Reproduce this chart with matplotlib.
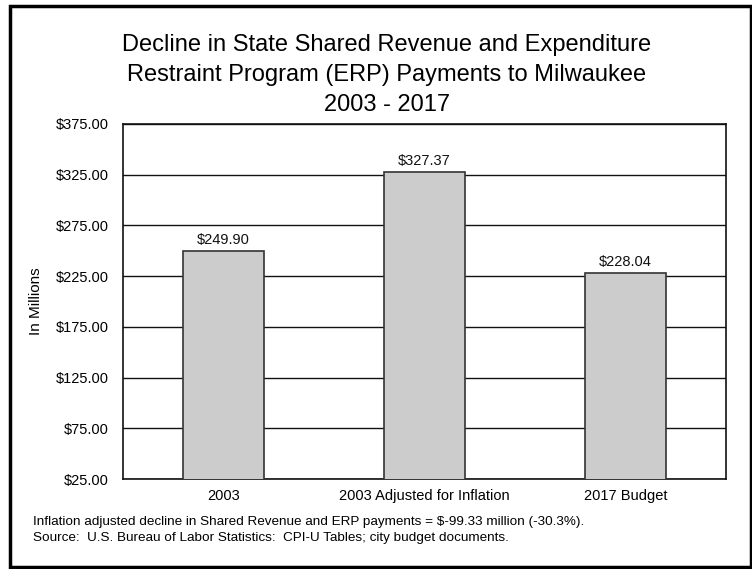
import matplotlib.pyplot as plt
from matplotlib.patches import Rectangle
import numpy as np

plt.rcParams['font.family'] = ['Liberation Sans', 'DejaVu Sans']

categories = ["2003", "2003 Adjusted for Inflation", "2017 Budget"]
payments = [249.90, 327.37, 228.04]
y_ticks = [25, 75, 125, 175, 225, 275, 325, 375]

W, H = 752, 569
fig = plt.figure(figsize=(W / 100, H / 100), dpi=100)
ax = fig.add_axes([123 / W, 1 - 479 / H, 603 / W, 355 / H])

x = np.arange(len(categories))
bars = ax.bar(x, payments, width=0.40, bottom=0, color="#cccccc",
              edgecolor="#333333", linewidth=1.2, zorder=3)
for b, v in zip(bars, payments):
    ax.text(b.get_x() + b.get_width() / 2, v + 4, f"${v:.2f}",
            ha="center", va="bottom", fontsize=10.5, color="#111111")

ax.set_xlim(-0.5, len(categories) - 0.5)
ax.set_ylim(25, 375)
ax.set_yticks(y_ticks)
ax.set_yticklabels([f"${t:.2f}" for t in y_ticks], fontsize=10.5)
ax.set_xticks(x)
ax.set_xticklabels(categories, fontsize=10.5)
ax.tick_params(axis="x", length=0, pad=7)
ax.tick_params(axis="y", length=0, pad=10)
ax.yaxis.grid(True, color="#111111", linewidth=1.0, zorder=0)
for s in ax.spines.values():
    s.set_color("#111111")
    s.set_linewidth(1.2)
ax.set_ylabel("In Millions", fontsize=11)
ax.yaxis.set_label_coords((43 - 123) / 603, 0.5)

fig.text(387 / W, 1 - 75 / H,
         "Decline in State Shared Revenue and Expenditure\n"
         "Restraint Program (ERP) Payments to Milwaukee\n2003 - 2017",
         ha="center", va="center", fontsize=17, linespacing=1.45)

fig.text(33 / W, 1 - 522 / H,
         "Inflation adjusted decline in Shared Revenue and ERP payments = $-99.33 million (-30.3%).",
         ha="left", va="center", fontsize=9.7)
fig.text(33 / W, 1 - 538 / H,
         "Source:  U.S. Bureau of Labor Statistics:  CPI-U Tables; city budget documents.",
         ha="left", va="center", fontsize=9.7)

# outer frame
fig.patches.append(Rectangle((9.5 / W, 1 - 567 / H), 741 / W, 561 / H,
                             transform=fig.transFigure, fill=False,
                             edgecolor="black", linewidth=2.5))

fig.savefig("out.png", dpi=100)
